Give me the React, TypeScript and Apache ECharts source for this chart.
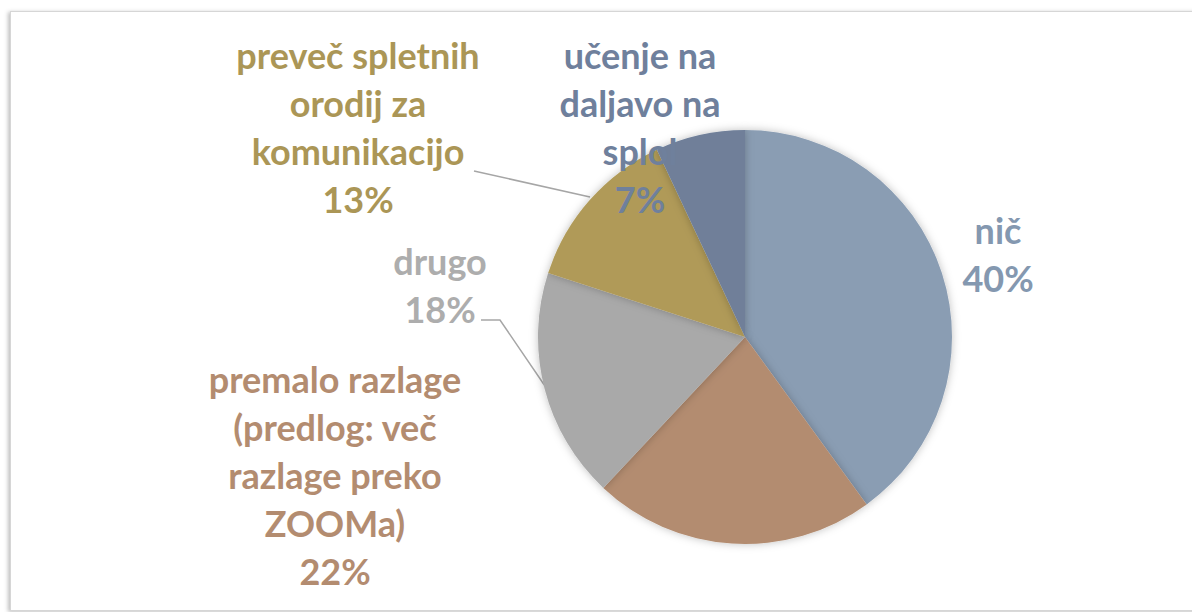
import React, { useEffect, useRef } from "react";
import * as echarts from "echarts";

const categories = [
  "nič",
  "premalo razlage\n(predlog: več\nrazlage preko\nZOOMa)",
  "drugo",
  "preveč spletnih\norodij za\nkomunikacijo",
  "učenje na\ndaljavo na\nsplol",
];
const values = [40, 22, 18, 13, 7];
const sliceColors = ["#8a9db3", "#b38c70", "#a9a9a9", "#b09a58", "#6f7f99"];
const labelColors = ["#8498b0", "#b38c70", "#adadad", "#ab9656", "#6f809c"];

export default function App() {
  const ref = useRef<HTMLDivElement>(null);
  useEffect(() => {
    const chart = echarts.init(ref.current!, null, { renderer: "svg" });
    const labelPos = [
      { x: 998, y: 254 },
      { x: 335, y: 475 },
      { x: 440, y: 285 },
      { x: 358, y: 127 },
      { x: 640, y: 127 },
    ];
    const linePts: any = {
      2: [[481, 320], [500, 320], [545, 386]],
      3: [[474, 171], [590, 197]],
    };
    chart.setOption({
      animation: false,
      backgroundColor: "transparent",
      series: [
        {
          type: "pie",
          center: [745, 337],
          radius: 207,
          startAngle: 90,
          clockwise: true,
          itemStyle: {
            borderWidth: 0,
            shadowBlur: 8,
            shadowColor: "rgba(0,0,0,0.25)",
          },
          data: categories.map((name, i) => ({
            name,
            value: values[i],
            itemStyle: { color: sliceColors[i] },
            label: { color: labelColors[i] },
            labelLine: { show: !!linePts[i], lineStyle: { color: "#a6a6a6", width: 1.5 } },
          })),
          label: {
            show: true,
            position: "outside",
            formatter: "{b}\n{d}%",
            fontFamily: "Lato, 'Open Sans', sans-serif",
            fontWeight: "bold",
            fontSize: 36,
            lineHeight: 48,
            align: "center",
          },
          labelLine: { show: true, length: 10, length2: 10 },
          labelLayout: (params: any) => {
            const i = params.dataIndex;
            const p = labelPos[i];
            const out: any = {
              x: p.x,
              y: p.y,
              align: "center",
              verticalAlign: "middle",
            };
            if (linePts[i]) out.labelLinePoints = linePts[i];
            return out;
          },
        },
      ],
    });
    return () => chart.dispose();
  }, []);
  return (
    <div
      style={{
        position: "fixed",
        left: 0,
        top: 0,
        width: 1192,
        height: 612,
        background: "#ffffff",
        overflow: "hidden",
      }}
    >
      <div
        style={{
          position: "absolute",
          left: 10,
          top: 11,
          width: 1200,
          height: 598,
          border: "1px solid #d6d6d6",
          boxShadow: "-2px 1px 4px rgba(0,0,0,0.25)",
          background: "#ffffff",
        }}
      />
      <div ref={ref} style={{ position: "absolute", left: 0, top: 0, width: 1192, height: 612 }} />
    </div>
  );
}
